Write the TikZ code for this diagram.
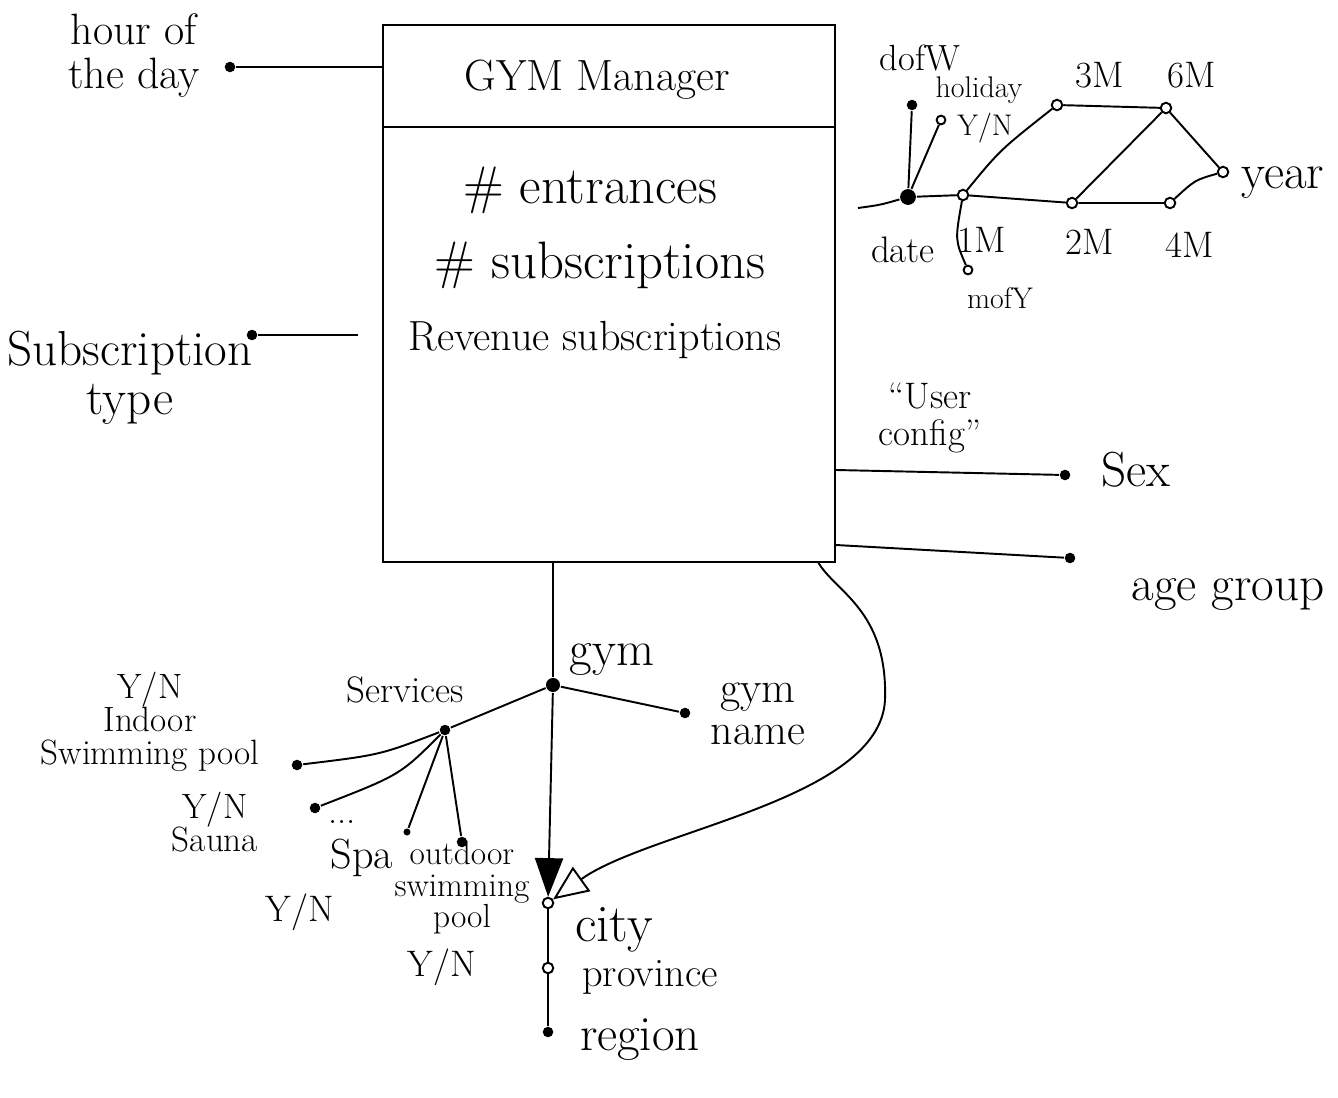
\documentclass[tikz,border=0pt]{standalone}
\usetikzlibrary{arrows.meta,positioning}
\begin{document}
\begin{tikzpicture}[x=0.02cm,y=-0.02cm,line width=1.1pt,
	dot/.style={circle,fill,inner sep=0pt,minimum size=6pt},
	hdot/.style={circle,draw,fill=white,inner sep=0pt,minimum size=6pt},
	lbl/.style={font=\fontsize{28}{28}\selectfont,align=center,inner sep=1pt},
	slbl/.style={font=\fontsize{21}{21}\selectfont,align=center,inner sep=1pt},
	tlbl/.style={font=\fontsize{17}{17}\selectfont,align=center,inner sep=1pt}]
	\useasboundingbox (0,0) rectangle (1338,1098);
	% fact
	\node[draw,minimum width=9.04cm,minimum height=10.74cm,inner sep=0pt] (fact) at (609,293.5) {};
	\draw (fact.west |- 0,127) -- (fact.east |- 0,127);
	\node[font=\Huge] (title) at (597,80) {GYM Manager};
	\node[font=\fontsize{30}{30}\selectfont] (m1) at (590,190) {\# entrances};
	\node[font=\fontsize{30}{30}\selectfont] (m2) at (600,265) {\# subscriptions};
	\node[lbl,font=\fontsize{24}{24}\selectfont] (m3) at (595,340) {Revenue subscriptions};
	% left
	\node[dot] (hour) at (230,67) {};
	\node[lbl,font=\fontsize{25}{25}\selectfont] at (134,56) {hour of\\the day};
	\draw (hour) -- (hour -| fact.west);
	\node[dot] (subtype) at (252,335) {};
	\coordinate (subend) at (358,335);
	\node[lbl] at (130,378) {Subscription\\type};
	\draw (subtype) -- (subend);
	% user config
	\node[slbl] at (930,418) {``User\\config''};
	\node[dot] (sex) at (1065,475) {};
	\node[lbl] at (1136,470) {Sex};
	\draw (fact.east |- 0,470) -- (sex);
	\node[dot] (agegroup) at (1070,558) {};
	\node[lbl] at (1228,595) {age group};
	\draw (fact.east |- 0,545) -- (agegroup);
	% time
	\node[dot,minimum size=9pt] (date) at (908,197) {};
	\coordinate (dstart) at (858,208);
	\node[dot] (dofw) at (912,105) {};
	\node[hdot,minimum size=5pt] (holiday) at (941,120) {};
	\node[hdot] (m1m) at (963,195) {};
	\node[hdot,minimum size=5pt] (mofy) at (968,270) {};
	\node[hdot] (m3m) at (1057,105) {};
	\node[hdot] (m6m) at (1166,108) {};
	\node[hdot] (m2m) at (1072,203) {};
	\node[hdot] (m4m) at (1170,203) {};
	\node[hdot] (year) at (1223,172) {};
	\node[font=\huge] at (920,58) {dofW};
	\node[tlbl] at (979,90) {holiday};
	\node[tlbl] at (985,128) {Y/N};
	\node[slbl] at (1100,75) {3M};
	\node[slbl] at (1192,75) {6M};
	\node[slbl] at (903,250) {date};
	\node[slbl] at (982,240) {1M};
	\node[slbl] at (1090,242) {2M};
	\node[slbl] at (1190,245) {4M};
	\node[lbl] at (1283,183) {year};
	\node[tlbl] at (1000,298) {mofY};
	\draw (dstart) .. controls (880,205) .. (date);
	\draw (date) -- (dofw);
	\draw (date) -- (holiday);
	\draw (date) -- (m1m) -- (m2m) -- (m4m);
	\draw (m1m) .. controls (1000,150) .. (m3m);
	\draw (m3m) -- (m6m) -- (year);
	\draw (m2m) -- (m6m);
	\draw (m4m) .. controls (1195,180) .. (year);
	\draw (m1m) .. controls (955,240) .. (mofy);
	% gym
	\node[dot,minimum size=8pt] (gym) at (553,685) {};
	\node[lbl] at (612,660) {gym};
	\draw (gym |- fact.south) -- (gym);
	\node[dot] (gymname) at (685,713) {};
	\node[lbl,font=\fontsize{25}{24}\selectfont] at (758,714) {gym\\name};
	\draw (gym) -- (gymname);
	\node[dot] (services) at (445,730) {};
	\node[slbl] at (405,690) {Services};
	\draw (gym) -- (services);
	\node[dot] (indoor) at (297,765) {};
	\node[slbl,font=\fontsize{20}{19}\selectfont] at (150,722) {Y/N\\Indoor\\Swimming pool};
	\node[dot] (sauna) at (315,808) {};
	\node[slbl,font=\fontsize{20}{19}\selectfont] at (215,822) {Y/N\\Sauna};
	\node[dot,minimum size=4pt] (spa) at (407,832) {};
	\node[slbl] at (342,822) {...};
	\node[lbl,font=\fontsize{24}{24}\selectfont] at (362,858) {Spa};
	\node[slbl] at (300,912) {Y/N};
	\node[dot] (outdoor) at (462,842) {};
	\node[slbl,font=\fontsize{19}{18}\selectfont] at (462,888) {outdoor\\swimming\\pool};
	\node[slbl] at (442,967) {Y/N};
	\draw (services) .. controls (380,755) .. (indoor);
	\draw (services) .. controls (400,775) .. (sauna);
	\draw (services) -- (spa);
	\draw (services) -- (outdoor);
	% city
	\node[hdot] (city) at (548,903) {};
	\node[hdot] (province) at (548,968) {};
	\node[dot] (region) at (548,1032) {};
	\node[lbl,font=\fontsize{30}{30}\selectfont] at (614,930) {city};
	\node[lbl,font=\fontsize{23}{23}\selectfont] at (650,977) {province};
	\node[lbl] at (640,1040) {region};
	\draw[-{Triangle[length=22pt,width=16pt]}] (gym) -- (city);
	\draw (city) -- (province) -- (region);
	\coordinate (c0) at (818,562);
	\draw[-{Triangle[open,length=20pt,width=17pt]}] (c0) .. controls (835,592) and (888,610) .. (885,700) .. controls (880,800) and (650,830) .. (city);
\end{tikzpicture}
\end{document}
